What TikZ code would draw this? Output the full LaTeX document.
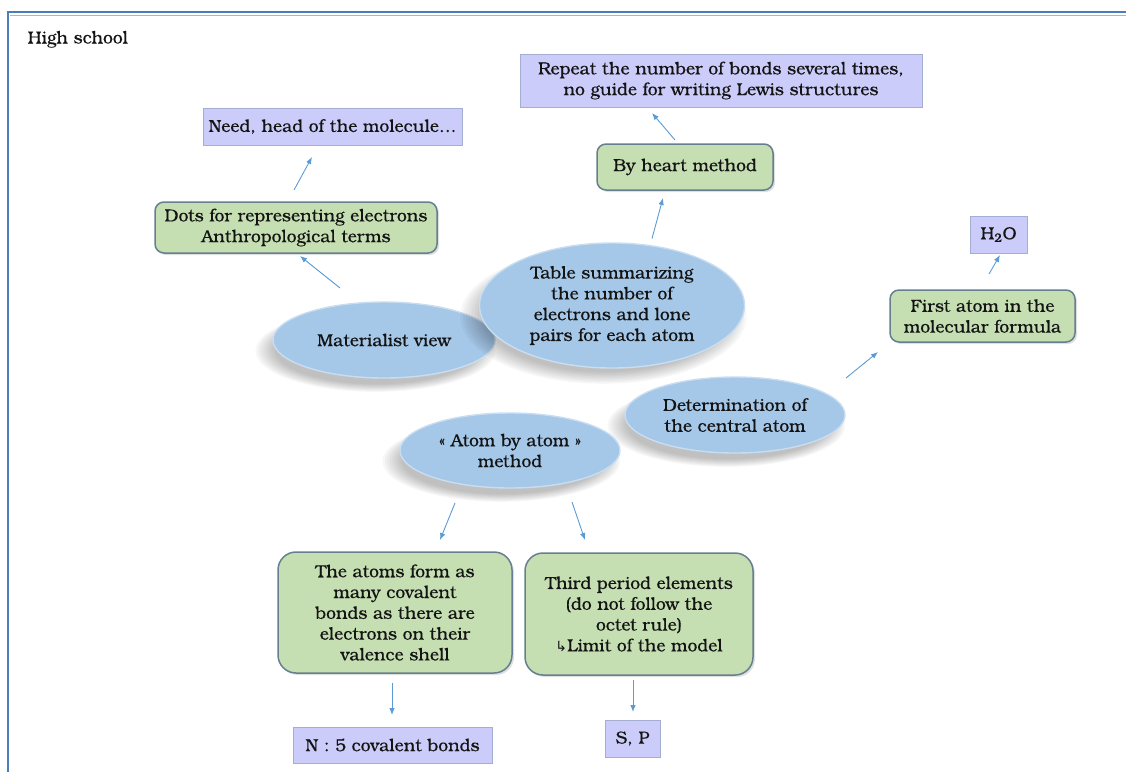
\documentclass[tikz,border=0pt]{standalone}
\usepackage{fontspec}
\setmainfont{TeX Gyre Bonum}[UprightFeatures={FakeBold=0.25}]
\newfontfamily\djv{DejaVu Sans}
\usetikzlibrary{shapes.geometric,arrows.meta,calc,shadows}
\definecolor{frameblue}{HTML}{4A7EBB}
\definecolor{framegray}{HTML}{B4B4B4}
\definecolor{textc}{HTML}{141414}
\definecolor{pfill}{HTML}{CCCCFA}
\definecolor{pborder}{HTML}{A4AED2}
\definecolor{gfill}{HTML}{C5DFB3}
\definecolor{gborder}{HTML}{667F90}
\definecolor{efill}{HTML}{A5C7E8}
\definecolor{erim}{HTML}{C9DDF1}
\definecolor{arrc}{HTML}{5B9BD5}
\tikzset{
  txt/.style={font=\fontsize{17.5}{20.8}\selectfont, text=textc, align=center},
  pbox/.style={txt, draw=pborder, fill=pfill, line width=0.9pt, inner sep=0pt},
  gbox/.style={txt, draw=gborder, fill=gfill, line width=1.5pt, inner sep=0pt,
    rounded corners=9pt,
    drop shadow={shadow xshift=2pt, shadow yshift=-2pt, opacity=0.25, fill=gray}},
  bigg/.style={gbox, rounded corners=18pt},
  esh/.style={drop shadow={shadow xshift=-8pt, shadow yshift=-10pt, opacity=0.032, fill=black, shadow scale=#1}},
  bell/.style={txt, ellipse, fill=efill, draw=erim, line width=1.4pt, inner sep=0pt,
    esh=1.08, esh=1.06, esh=1.04, esh=1.02, esh=1.0, esh=0.98, esh=0.96, esh=0.94, esh=0.92},
  arr/.style={draw=arrc, line width=0.9pt, -{Latex[length=7pt,width=5.5pt]}}
}
\begin{document}
\begin{tikzpicture}[x=1pt,y=-1pt]
\useasboundingbox (0,0) rectangle (1126,772);
% frame
\draw[framegray, line width=1.4pt] (10,15.5) -- (1126,15.5);
\draw[frameblue, line width=2pt] (7,12) -- (1126,12);
\draw[frameblue, line width=2pt] (8,11) -- (8,772);
\node[txt, anchor=base west, inner sep=0pt] (hs) at (27.5,43.5) {High school};

% boxes
\node[pbox, minimum width=259pt, minimum height=37pt] (need) at (332.5,126.5) {Need, head of the molecule…};
\node[pbox, minimum width=402pt, minimum height=53pt] (rep) at (721,80.5) {Repeat the number of bonds several times,\\no guide for writing Lewis structures};
\node[gbox, minimum width=176pt, minimum height=46pt] (heart) at (685,167) {By heart method};
\node[gbox, minimum width=282pt, minimum height=51pt] (dots) at (296,227.5) {Dots for representing electrons\\Anthropological terms};
\node[gbox, minimum width=185pt, minimum height=52pt] (first) at (982.5,316) {First atom in the\\molecular formula};
\node[pbox, minimum width=57pt, minimum height=37pt] (h2o) at (998.5,234.5) {H\textsubscript{2}O};

% ellipses
\node[bell, minimum width=222pt, minimum height=76pt] (mat) at (384,340) {Materialist view};
\node[bell, minimum width=265pt, minimum height=125pt] (tab) at (612,305.5) {Table summarizing\\the number of\\electrons and lone\\pairs for each atom};
\node[bell, minimum width=220pt, minimum height=76pt] (det) at (735,415) {Determination of\\the central atom};
\node[bell, minimum width=220pt, minimum height=75pt] (atom) at (510,450.5) {« Atom by atom »\\method};

% bottom
\node[bigg, minimum width=234pt, minimum height=121pt] (atoms) at (395,612.5) {The atoms form as\\many covalent\\bonds as there are\\electrons on their\\valence shell};
\node[bigg, minimum width=228pt, minimum height=122pt] (third) at (639,614) {Third period elements\\(do not follow the\\octet rule)\\{\djv\fontsize{14}{20.8}\selectfont ↳}Limit of the model};
\node[pbox, minimum width=199pt, minimum height=36pt] (n5) at (392.5,745) {N : 5 covalent bonds};
\node[pbox, minimum width=55pt, minimum height=37pt] (sp) at (632.5,738.5) {S, P};

% arrows
\draw[arr] ($(mat)+(-44,-52)$) -- ($(dots)+(4,28.5)$);
\draw[arr] ($(dots)+(-2,-37.5)$) -- ($(need)+(-20.5,30.5)$);
\draw[arr] ($(tab)+(40,-67)$) -- ($(heart)+(-22,31)$);
\draw[arr] ($(heart)+(-10,-27)$) -- ($(rep)+(-69,32.5)$);
\draw[arr] ($(det)+(111,-37)$) -- ($(first)+(-104.5,36)$);
\draw[arr] ($(first)+(6.5,-42)$) -- ($(h2o)+(1.5,20.5)$);
\draw[arr] ($(atom)+(-55,52.5)$) -- ($(atoms)+(45,-72.5)$);
\draw[arr] ($(atom)+(62,51.5)$) -- ($(third)+(-54,-74)$);
\draw[arr] ($(atoms)+(-3,70.5)$) -- ($(n5)+(-0.5,-30)$);
\draw[arr] ($(third)+(-6,66)$) -- ($(sp)+(0.5,-26.5)$);
\end{tikzpicture}
\end{document}
